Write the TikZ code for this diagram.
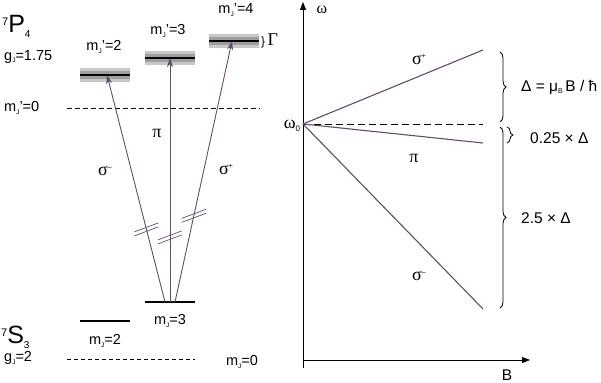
\documentclass[tikz,border=0pt]{standalone}
\usepackage{fontspec}
\setmainfont{Liberation Sans}
\newfontfamily\grk{Liberation Serif}
\usetikzlibrary{arrows.meta,decorations.pathreplacing,calc}
\definecolor{purp}{RGB}{98,76,108}
\newcommand\mjsub{m\raisebox{-2.5pt}{\fontsize{6.5}{6.5}\selectfont J}}
\newcommand\gsym[1]{{\grk\fontsize{18}{18}\selectfont #1}}
\newcommand\gsup[1]{\raisebox{6pt}{\fontsize{7}{7}\selectfont #1}}
\begin{document}
\begin{tikzpicture}[x=1pt,y=-1pt,
  font=\fontsize{14.5}{16}\selectfont,
  lvl/.style={line width=2.6pt,black},
  bandout/.style={fill=black!22,draw=none},
  bandin/.style={fill=black!38,draw=none},
  trans/.style={draw=purp,line width=0.9pt,-{Stealth[length=9pt,width=6pt]}},
  zline/.style={draw=purp,line width=1.1pt},
  brk/.style={draw=purp,line width=0.7pt},
  lbl/.style={inner sep=0pt},
  rlbl/.style={inner sep=0pt,font=\fontsize{15.5}{17}\selectfont},
  axis/.style={line width=0.9pt,-{Triangle[length=8pt,width=6pt]}},
  brc/.style={decorate,decoration={brace,amplitude=6pt},line width=0.8pt}]
\useasboundingbox (0,0) rectangle (601,382);

% ---------- left panel ----------
\node[lbl,anchor=west] (P4) at (2,26) {\raisebox{7pt}{\fontsize{11}{11}\selectfont 7}\fontsize{25}{25}\selectfont P\raisebox{-5pt}{\fontsize{10}{10}\selectfont 4}};
\node[lbl,anchor=west] (gP) at (4,57) {g\raisebox{-2.5pt}{\fontsize{6.5}{6.5}\selectfont J}=1.75};
\node[lbl,anchor=west] (S3) at (1,337) {\raisebox{7pt}{\fontsize{11}{11}\selectfont 7}\fontsize{25}{25}\selectfont S\raisebox{-5pt}{\fontsize{10}{10}\selectfont 3}};
\node[lbl,anchor=west] (gS) at (4,358) {g\raisebox{-2.5pt}{\fontsize{6.5}{6.5}\selectfont J}=2};

% upper levels
\foreach \x/\y in {80/75,145/58,209/41}{
  \fill[bandout] (\x,\y-7) rectangle ++(50,14);
  \fill[bandin] (\x,\y-4) rectangle ++(50,8);
  \draw[lvl] (\x,\y) -- ++(50,0);
}
\coordinate (e2) at (107,75);
\coordinate (e3) at (170,58);
\coordinate (e4) at (232,41);
\node[lbl] (le2) at (104,47) {\mjsub'=2};
\node[lbl] (le3) at (168,31) {\mjsub'=3};
\node[lbl] (le4) at (236,10) {\mjsub'=4};
\node[lbl,anchor=west] (gam) at (261,41) {{\fontsize{12}{12}\selectfont\}}\,\gsym{Γ}};

\node[lbl,anchor=west] (mp0) at (4,108) {\mjsub'=0};
\draw[dash pattern=on 5pt off 3pt,line width=0.7pt] (67,108) -- (260,108);

% lower levels
\draw[lvl] (145,302) -- (195,302);
\draw[lvl] (80,321) -- (130,321);
\node[lbl] (lg3) at (170,321) {\mjsub=3};
\node[lbl] (lg2) at (105,341) {\mjsub=2};
\draw[dash pattern=on 4pt off 3pt,line width=0.6pt] (67,359) -- (195,359);
\node[lbl] (lg0) at (242,362) {\mjsub=0};

\coordinate (ga) at (165,302);
\coordinate (gb) at (170,302);
\coordinate (gc) at (175,302);

% transitions
\draw[trans] (ga) -- (e2) coordinate[pos=0.32] (b1);
\draw[trans] (gb) -- (e3) coordinate[pos=0.265] (b2);
\draw[trans] (gc) -- (e4) coordinate[pos=0.33] (b3);
\foreach \b in {b1,b2,b3}{
  \draw[brk] ($(\b)+(-12,2.5)$) -- ++(24,-9);
  \draw[brk] ($(\b)+(-12,6.5)$) -- ++(24,-9);
}
\node[lbl] (pil) at (157,133) {\gsym{π}};
\node[lbl] (sml) at (105,171) {\gsym{σ}\gsup{–}};
\node[lbl] (spl) at (226,170) {\gsym{σ}\gsup{+}};

% ---------- right panel ----------
\draw[axis] (303,368) -- (303,2);
\draw[axis] (303,360) -- (530,360);
\node[lbl,text height=8pt,text depth=0pt,anchor=base] (om) at (322,14) {{\grk\fontsize{16}{16}\selectfont ω}};
\node[rlbl,text height=11pt,text depth=0pt,anchor=base] (Bl) at (507,380) {B};
\coordinate (O) at (303,124);
\node[lbl] (om0) at (292,126) {\gsym{ω}\raisebox{-3pt}{\fontsize{8}{8}\selectfont 0}};
\coordinate (sp) at (483,50);
\coordinate (pp) at (483,143);
\coordinate (sm) at (483,309);
\coordinate (dz) at (483,124);
\draw[dash pattern=on 7pt off 4pt,line width=0.8pt] (O) -- (dz);
\draw[zline] (O) -- (sp);
\draw[zline] (O) -- (pp);
\draw[zline] (O) -- (sm);
\node[lbl] (spr) at (419,60) {\gsym{σ}\gsup{+}};
\node[lbl] (pir) at (414,158) {\gsym{π}};
\node[lbl] (smr) at (419,276) {\gsym{σ}\gsup{–}};

\draw[brc] (500,52) -- (500,122);
\draw[brc] (507,127) -- (507,143);
\draw[brc] (500,127) -- (500,308);
\node[rlbl,anchor=west] (d1) at (521,87) {Δ = μ\raisebox{-2.5pt}{\fontsize{7}{7}\selectfont B}\,B / ħ};
\node[rlbl,anchor=west] (d2) at (530,138) {0.25 × Δ};
\node[rlbl,anchor=west] (d3) at (521,218) {2.5 × Δ};
\end{tikzpicture}
\end{document}
